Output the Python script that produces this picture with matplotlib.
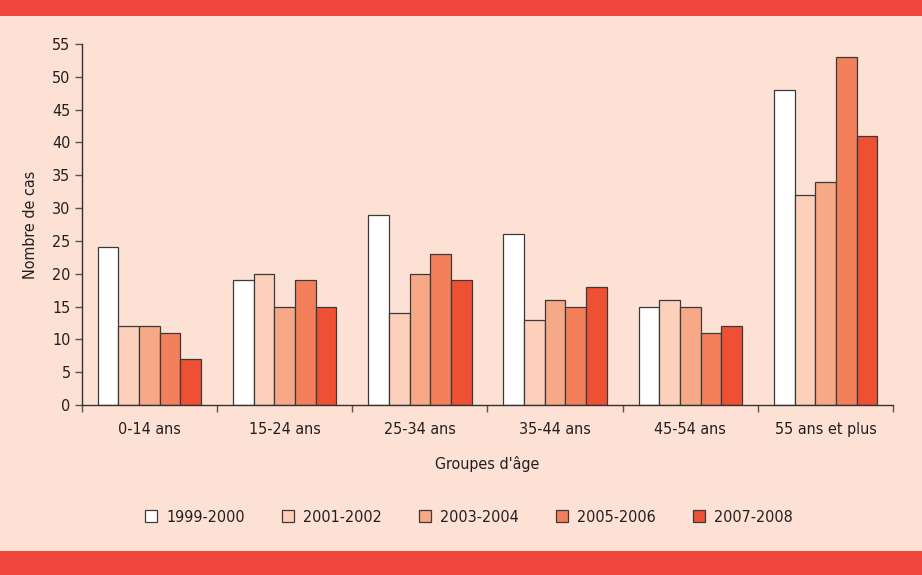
import matplotlib
matplotlib.use("Agg")
import matplotlib.pyplot as plt
import numpy as np
from matplotlib.patches import Rectangle

plt.rcParams['font.family'] = ['DejaVu Sans']
plt.rcParams['font.stretch'] = 'condensed'

groups = ["0-14 ans", "15-24 ans", "25-34 ans", "35-44 ans", "45-54 ans", "55 ans et plus"]
periods = ["1999-2000", "2001-2002", "2003-2004", "2005-2006", "2007-2008"]
cases_1999_2000 = [24, 19, 29, 26, 15, 48]
cases_2001_2002 = [12, 20, 14, 13, 16, 32]
cases_2003_2004 = [12, 15, 20, 16, 15, 34]
cases_2005_2006 = [11, 19, 23, 15, 11, 53]
cases_2007_2008 = [7, 15, 19, 18, 12, 41]
series = [cases_1999_2000, cases_2001_2002, cases_2003_2004, cases_2005_2006, cases_2007_2008]
colors = ["#ffffff", "#fdd0bb", "#f7a886", "#f37f5b", "#ee5034"]

bg = "#fde1d4"
banner = "#f0473c"
text_c = "#231f20"

fig = plt.figure(figsize=(9.22, 5.75), dpi=100, facecolor=bg)

# red bands at top and bottom
fig.patches.append(Rectangle((0, 1 - 16 / 575), 1, 16 / 575, transform=fig.transFigure,
                             facecolor=banner, edgecolor="none", zorder=0))
fig.patches.append(Rectangle((0, 0), 1, 24 / 575, transform=fig.transFigure,
                             facecolor=banner, edgecolor="none", zorder=0))

ax = fig.add_axes([81.7 / 922, 1 - 405 / 575, (893.3 - 81.7) / 922, (405 - 44) / 575])
ax.set_facecolor(bg)

x = np.arange(len(groups))
w = 0.153
for i, (vals, col, lab) in enumerate(zip(series, colors, periods)):
    ax.bar(x + (i - 2) * w, vals, width=w, color=col, edgecolor="#3a3a3a",
           linewidth=0.9, label=lab, zorder=2)

ax.set_xlim(-0.5, len(groups) - 0.5)
ax.set_ylim(0, 55)
ax.set_yticks(np.arange(0, 56, 5))
ax.set_xticks(np.arange(-0.5, len(groups), 1.0))
ax.set_xticklabels([])
ax.set_xticks(x, minor=True)
ax.set_xticklabels(groups, minor=True)
ax.tick_params(axis="x", which="minor", length=0, pad=12, labelsize=11.5, colors=text_c)
ax.tick_params(axis="x", which="major", length=5, width=1, color="#555555")
ax.tick_params(axis="y", length=5, width=1, color="#555555", labelsize=11.5, labelcolor=text_c, pad=3)

for s in ("top", "right"):
    ax.spines[s].set_visible(False)
for s in ("left", "bottom"):
    ax.spines[s].set_color("#333333")
    ax.spines[s].set_linewidth(1.0)

ax.set_ylabel("Nombre de cas", fontsize=11.5, color=text_c, labelpad=10)
ax.set_xlabel("Groupes d'âge", fontsize=11.5, color=text_c, labelpad=14)

leg = fig.legend(loc="center", bbox_to_anchor=(469 / 922, 1 - 517 / 575), ncol=5,
                 frameon=False, fontsize=11.5, handlelength=0.75, handleheight=0.75,
                 handletextpad=0.6, columnspacing=2.3)
for t in leg.get_texts():
    t.set_color(text_c)

fig.savefig("out.png", dpi=100, facecolor=bg)
